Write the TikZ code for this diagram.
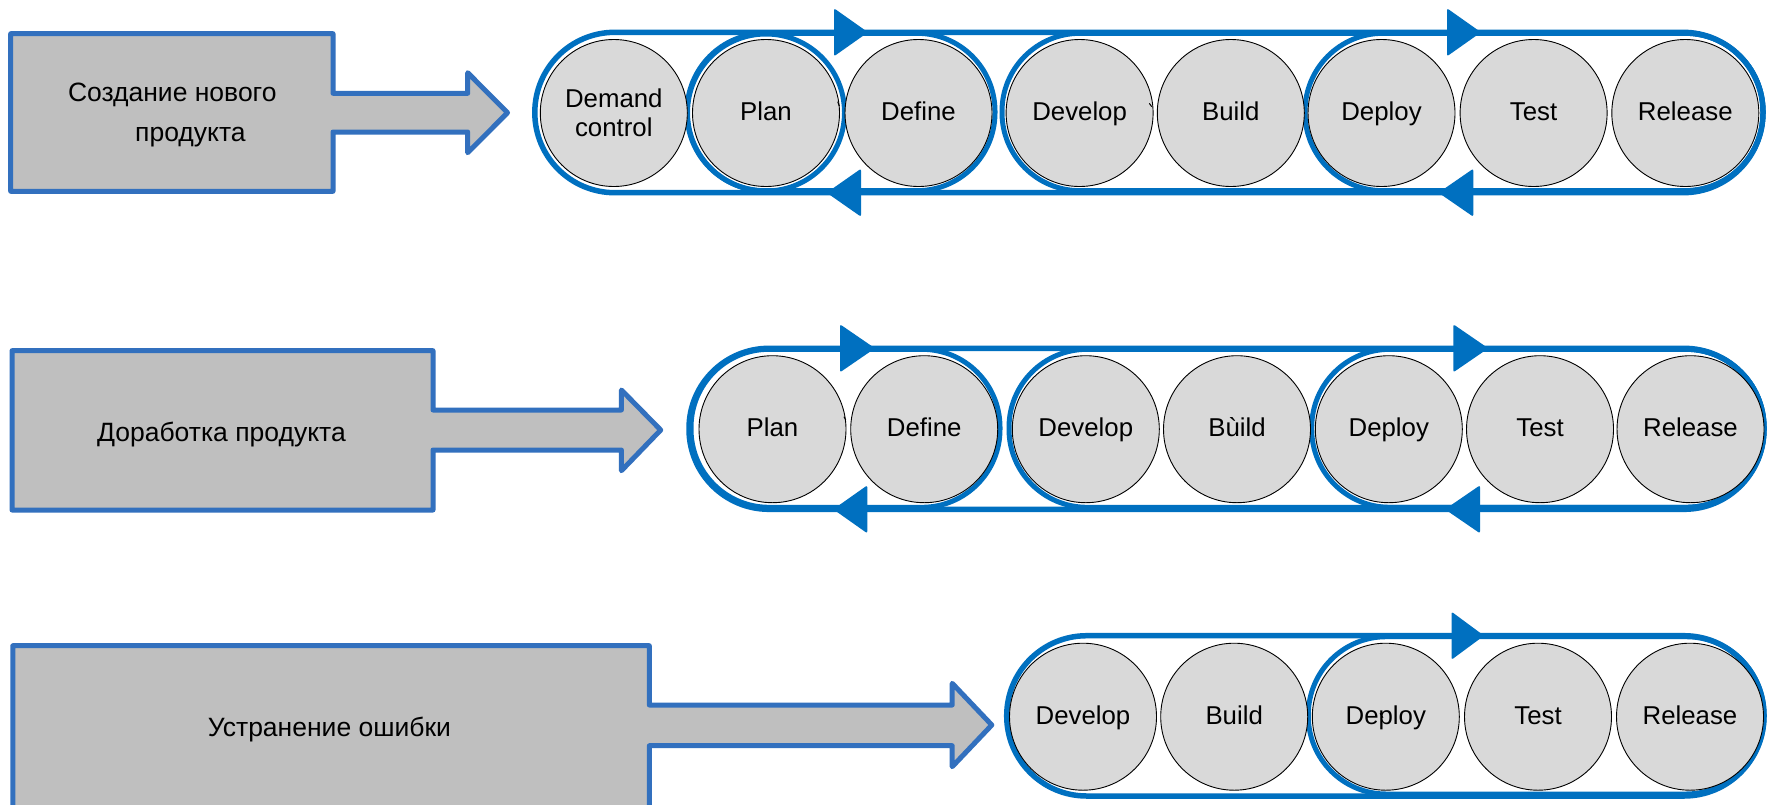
\documentclass[tikz,border=0pt]{standalone}
\usepackage{fontspec}
\setmainfont{Liberation Sans}
\definecolor{pillblue}{HTML}{0070C0}
\definecolor{boxblue}{HTML}{3270BE}
\definecolor{boxgray}{HTML}{BFBFBF}
\definecolor{stagegray}{HTML}{D9D9D9}
\newcommand\stagefont{\fontsize{25.8}{29}\selectfont}
\newcommand\boxfont{\fontsize{26.5}{30}\selectfont}
\tikzset{
  blk/.style={draw=boxblue, fill=boxgray, line width=5pt, line join=round},
  pillst/.style={draw=pillblue, line width=5.5pt, rounded corners=80pt},
  capst/.style={draw=pillblue, line width=5pt, rounded corners=78pt},
  stage/.style={circle, draw=black, line width=0.9pt, fill=stagegray, minimum size=147pt,
    inner sep=0pt, font=\stagefont, text height=18.5pt, text depth=3.5pt},
  stagetwo/.style={circle, draw=black, line width=0.9pt, fill=stagegray, minimum size=147pt,
    inner sep=0pt, font=\stagefont, align=center},
  ahead/.style={fill=pillblue, rounded corners=2pt},
  boxtxt/.style={anchor=base, font=\boxfont, inner sep=0pt},
  tick/.style={draw=black, line width=1pt},
}
\begin{document}
\begin{tikzpicture}[x=1pt,y=-1pt]
\useasboundingbox (0,0) rectangle (1768,804);
\clip (0,0) rectangle (1768,804);
\fill[white] (0,0) rectangle (1768,804);

% ---------- Row 1 ----------
\draw[blk] (10.7,33.7) -- (333,33.7) -- (333,93.3) -- (467.7,93.3) -- (467.7,72.7)
  -- (507.5,112.7) -- (467.7,152.7) -- (467.7,132) -- (333,132) -- (333,191.3)
  -- (10.7,191.3) -- cycle;
\node[boxtxt] (t1a) at (172.3,101.7) {Создание нового};
\node[boxtxt] (t1b) at (190.4,141.7) {продукта};

\draw[pillst] (534.8,32.3) rectangle (1763,192.7);
\draw[capst] (687,33.3) rectangle (995,190.7);
\draw[capst] (1002,33.3) rectangle (1763,190.7);
\draw[capst] (1305,33.3) rectangle (1763,190.7);
\draw[draw=pillblue, line width=5pt] (766,112.5) circle[radius=78.5];

\node[stagetwo] (r1dc) at (613.8,113) {Demand\\control};
\node[stage] (r1pl) at (766,113) {Plan};
\node[stage] (r1df) at (918.5,113) {Define};
\node[stage] (r1dv) at (1079.6,113) {Develop};
\node[stage] (r1bu) at (1230.8,113) {Build};
\node[stage] (r1dp) at (1381.5,113) {Deploy};
\node[stage] (r1te) at (1533.6,113) {Test};
\node[stage] (r1re) at (1685.3,113) {Release};

\fill[ahead] (834,8.3) -- (868,32.3) -- (834,56.3) -- cycle;
\fill[ahead] (1447,8.3) -- (1481,32.3) -- (1447,56.3) -- cycle;
\fill[ahead] (861,168.7) -- (826.7,192.7) -- (861,216.7) -- cycle;
\fill[ahead] (1473.3,168.7) -- (1438.5,192.7) -- (1473.3,216.7) -- cycle;
\draw[tick] (837.7,101.7) -- (839.3,106);
\draw[tick] (1149.3,103.3) -- (1151.7,106.7);

% ---------- Row 2 ----------
\draw[blk] (12,350.7) -- (433,350.7) -- (433,410) -- (621.4,410) -- (621.4,390)
  -- (660.7,430) -- (621.4,470.7) -- (621.4,450) -- (433,450) -- (433,510)
  -- (12,510) -- cycle;
\node[boxtxt] (t2) at (221.4,441.5) {Доработка продукта};

\draw[pillst] (689,348.3) rectangle (1764,509.3);
\draw[capst] (691,349.3) rectangle (1000,507.3);
\draw[capst] (1009,349.3) rectangle (1764,507.3);
\draw[capst] (1311.7,349.3) rectangle (1764,507.3);

\node[stage] (r2pl) at (772.5,429.2) {Plan};
\node[stage] (r2df) at (924.2,429.2) {Define};
\node[stage] (r2dv) at (1085.8,429.2) {Develop};
\node[stage] (r2bu) at (1237,429.2) {Bùild};
\node[stage] (r2dp) at (1388.8,429.2) {Deploy};
\node[stage] (r2te) at (1540,429.2) {Test};
\node[stage] (r2re) at (1690.5,429.2) {Release};

\fill[ahead] (840,324.3) -- (875,348.3) -- (840,372.3) -- cycle;
\fill[ahead] (1453.3,324.3) -- (1488.3,348.3) -- (1453.3,372.3) -- cycle;
\fill[ahead] (867.3,485.3) -- (833.3,509.3) -- (867.3,533.3) -- cycle;
\fill[ahead] (1480,485.3) -- (1445,509.3) -- (1480,533.3) -- cycle;
\draw[tick] (844,416.7) -- (845.7,420);

% ---------- Row 3 ----------
\draw[blk] (12.8,645.7) -- (649.3,645.7) -- (649.3,705) -- (952.2,705) -- (952.2,683.3)
  -- (991.8,725) -- (952.2,766.7) -- (952.2,745.7) -- (649.3,745.7) -- (649.3,830)
  -- (12.8,830) -- cycle;
\node[boxtxt] (t3) at (329.4,736.7) {Устранение ошибки};

\draw[pillst] (1006.7,635.7) rectangle (1764,796);
\draw[capst] (1308.3,636.7) rectangle (1764,794);

\node[stage] (r3dv) at (1083,716.7) {Develop};
\node[stage] (r3bu) at (1234.2,716.7) {Build};
\node[stage] (r3dp) at (1385.8,716.7) {Deploy};
\node[stage] (r3te) at (1538,716.7) {Test};
\node[stage] (r3re) at (1690,716.7) {Release};

\fill[ahead] (1451.5,611.7) -- (1484,635.7) -- (1451.5,659.7) -- cycle;
\draw[tick] (1380,713.3) -- (1383,717.7);
\end{tikzpicture}
\end{document}
